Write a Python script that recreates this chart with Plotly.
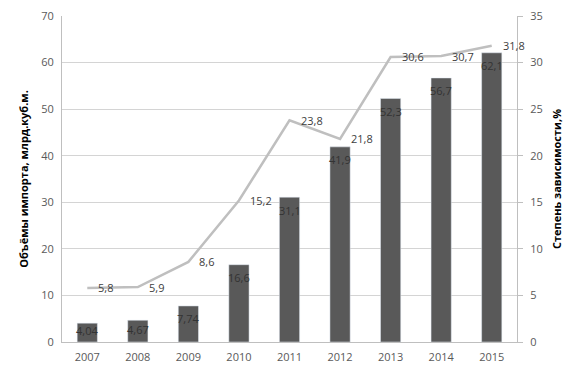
import plotly.graph_objects as go

years = ["2007", "2008", "2009", "2010", "2011", "2012", "2013", "2014", "2015"]
imports = [4.04, 4.67, 7.74, 16.6, 31.1, 41.9, 52.3, 56.7, 62.1]
dependence = [5.8, 5.9, 8.6, 15.2, 23.8, 21.8, 30.6, 30.7, 31.8]

def fmt(v):
    return str(v).replace(".", ",")

FONT = "Open Sans"
# page body has an 8px margin; size the figure so it fits the 580x375 window
W, H = 572, 367
L, R, T, B = 54, 63, 8, 33
Y1MAX = 70
px_per_unit = (H - T - B) / Y1MAX

fig = go.Figure()
fig.add_trace(go.Bar(x=years, y=imports, marker_color="#595959", width=0.4,
                     showlegend=False, hoverinfo="x+y"))
fig.add_trace(go.Scatter(x=years, y=dependence, yaxis="y2", mode="lines",
                         line=dict(color="#bfbfbf", width=2.5), showlegend=False))

ann = []
for i, v in enumerate(imports):
    shift = min(13, 0.5 * v * px_per_unit - 2)
    ann.append(dict(x=i, y=v, xref="x", yref="y", text=fmt(v), showarrow=False,
                    yshift=-shift, font=dict(family=FONT, size=11, color="#333333")))
for i, v in enumerate(dependence):
    ann.append(dict(x=i, y=v, xref="x", yref="y2", text=fmt(v), showarrow=False,
                    xanchor="left", xshift=9, font=dict(family=FONT, size=11, color="#404040")))

fig.update_layout(
    width=W, height=H,
    margin=dict(l=L, r=R, t=T, b=B),
    paper_bgcolor="white", plot_bgcolor="white",
    font=dict(family=FONT, size=11, color="#595959"),
    annotations=ann,
    xaxis=dict(type="category", range=[-0.5, len(years) - 0.5], showline=True,
               linecolor="#bfbfbf", linewidth=1, showgrid=False,
               ticks="", ticklabelstandoff=5, tickfont=dict(size=11, color="#595959")),
    yaxis=dict(range=[0, Y1MAX], dtick=10, showgrid=True, gridcolor="#d4d4d4", gridwidth=1,
               showline=True, linecolor="#bfbfbf", zeroline=False, ticks="",
               ticklabelstandoff=5, automargin=False, ticklabeloverflow="allow",
               title=dict(text="<b>Объёмы импорта, млрд.куб.м.</b>", standoff=10,
                          font=dict(size=11, color="#000000"))),
    yaxis2=dict(range=[0, 35], dtick=5, overlaying="y", side="right", showgrid=False,
                showline=True, linecolor="#bfbfbf", zeroline=False,
                ticks="outside", ticklen=5, tickcolor="#bfbfbf",
                ticklabelstandoff=5, automargin=False, ticklabeloverflow="allow",
                title=dict(text="<b>Степень зависимости,%</b>", standoff=11,
                           font=dict(size=11, color="#000000"))),
    bargap=0.6,
)
fig.write_html("out.html")
